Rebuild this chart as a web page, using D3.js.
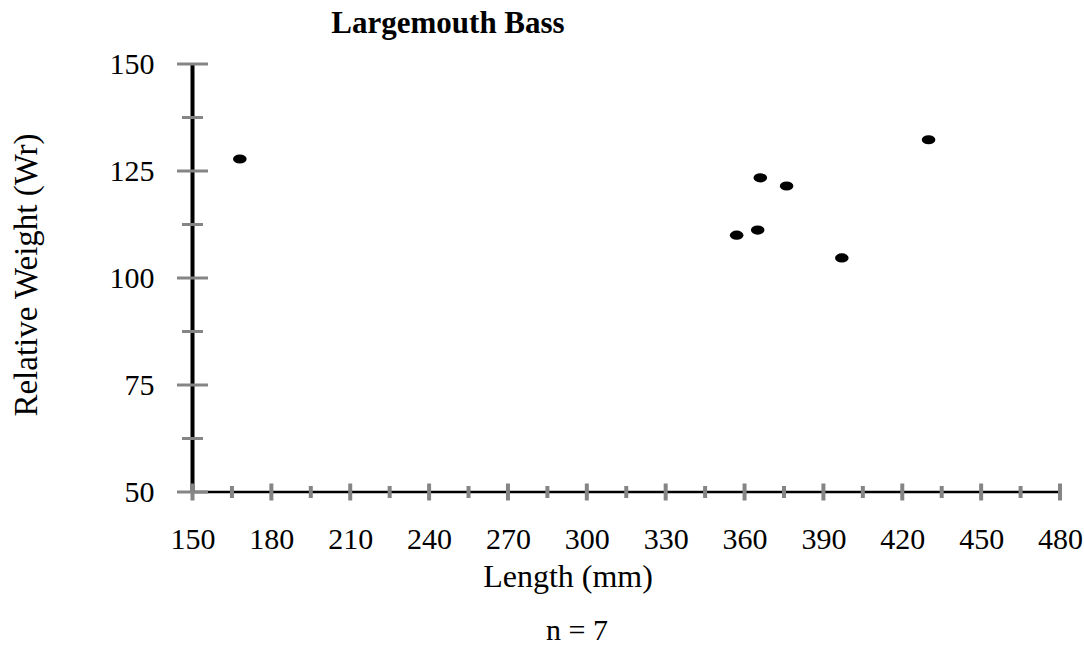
<!DOCTYPE html>
<html lang="en">
<head>
<meta charset="UTF-8">
<title>Largemouth Bass</title>
<script src="https://cdn.jsdelivr.net/npm/d3@7"></script>
<style>
    body { margin: 0; background: #ffffff; }
    svg text { font-family: 'Liberation Serif', 'Times New Roman', serif; fill: #000; }
</style>
</head>
<body>
<svg id="chart" width="1084" height="649"></svg>
<script>
    // data
    const lengths = [168, 357, 365, 366, 376, 397, 430];
    const weights = [127.8, 110.0, 111.2, 123.4, 121.5, 104.7, 132.3];
    const xTicks = [150, 180, 210, 240, 270, 300, 330, 360, 390, 420, 450, 480];
    const yTicks = [50, 75, 100, 125, 150];

    const svg = d3.select("#chart");
    const plotL = 192.5, plotR = 1060, plotT = 64, plotB = 492;

    const x = d3.scaleLinear().domain([150, 480]).range([plotL, plotR]);
    const y = d3.scaleLinear().domain([50, 150]).range([plotB, plotT]);

    // minor ticks halfway between majors
    const xMinor = xTicks.slice(0, -1).map(v => v + 15);
    const yMinor = yTicks.slice(0, -1).map(v => v + 12.5);

    // axis lines
    svg.append("line")
        .attr("x1", plotL).attr("x2", plotR)
        .attr("y1", plotB).attr("y2", plotB)
        .attr("stroke", "#000").attr("stroke-width", 2.5);
    svg.append("line")
        .attr("x1", plotL).attr("x2", plotL)
        .attr("y1", plotT).attr("y2", plotB)
        .attr("stroke", "#000").attr("stroke-width", 4);

    // tick marks crossing the axes
    const tickColor = "#858585";
    svg.append("g").selectAll("line")
        .data(xTicks)
        .join("line")
        .attr("x1", d => x(d)).attr("x2", d => x(d))
        .attr("y1", plotB - 8.5).attr("y2", plotB + 8.5)
        .attr("stroke", tickColor).attr("stroke-width", 4);
    svg.append("g").selectAll("line")
        .data(xMinor)
        .join("line")
        .attr("x1", d => x(d)).attr("x2", d => x(d))
        .attr("y1", plotB - 6).attr("y2", plotB + 6)
        .attr("stroke", tickColor).attr("stroke-width", 4);
    svg.append("g").selectAll("line")
        .data(yTicks)
        .join("line")
        .attr("x1", plotL - 15.5).attr("x2", plotL + 15.5)
        .attr("y1", d => y(d)).attr("y2", d => y(d))
        .attr("stroke", tickColor).attr("stroke-width", 3);
    svg.append("g").selectAll("line")
        .data(yMinor)
        .join("line")
        .attr("x1", plotL - 10.5).attr("x2", plotL + 10.5)
        .attr("y1", d => y(d)).attr("y2", d => y(d))
        .attr("stroke", tickColor).attr("stroke-width", 3);

    // tick labels from d3 axes
    const xAxis = svg.append("g")
        .attr("transform", `translate(0,${plotB})`)
        .call(d3.axisBottom(x).tickValues(xTicks).tickSize(0).tickPadding(36));
    xAxis.select(".domain").remove();
    xAxis.selectAll("text").style("font-size", "30px").attr("fill", "#000");

    const yAxis = svg.append("g")
        .attr("transform", `translate(${plotL},0)`)
        .call(d3.axisLeft(y).tickValues(yTicks).tickSize(0).tickPadding(38));
    yAxis.select(".domain").remove();
    yAxis.selectAll("text").style("font-size", "30px").attr("fill", "#000");

    // points
    const pts = lengths.map((v, i) => ({ len: v, wr: weights[i] }));
    svg.append("g").selectAll("ellipse")
        .data(pts)
        .join("ellipse")
        .attr("cx", d => x(d.len))
        .attr("cy", d => y(d.wr))
        .attr("rx", 6.8)
        .attr("ry", 4.6)
        .attr("fill", "#000");

    // titles
    svg.append("text")
        .attr("x", 448).attr("y", 33)
        .attr("text-anchor", "middle")
        .style("font-size", "31px").style("font-weight", "bold")
        .text("Largemouth Bass");

    svg.append("text")
        .attr("x", 568).attr("y", 587)
        .attr("text-anchor", "middle")
        .style("font-size", "32px")
        .text("Length (mm)");

    svg.append("text")
        .attr("transform", "translate(37,275) rotate(-90)")
        .attr("text-anchor", "middle")
        .style("font-size", "33px")
        .text("Relative Weight (Wr)");

    svg.append("text")
        .attr("x", 577).attr("y", 640)
        .attr("text-anchor", "middle")
        .style("font-size", "30px")
        .text("n = 7");
</script>
</body>
</html>
